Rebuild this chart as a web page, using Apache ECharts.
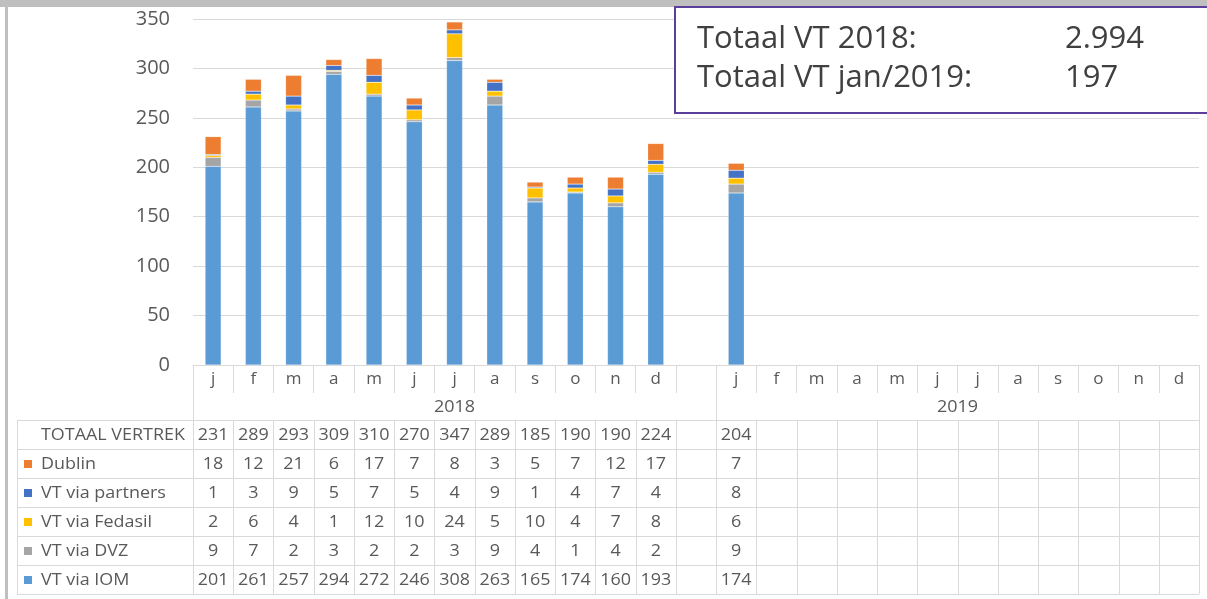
<!DOCTYPE html>
<html>
<head>
<meta charset="utf-8">
<script src="https://cdn.jsdelivr.net/npm/echarts@6/dist/echarts.min.js"></script>
<style>
  html, body { margin: 0; padding: 0; background: #fff; }
  #main { width: 1207px; height: 599px; }
</style>
</head>
<body>
<div id="main"></div>
<script>
// maanden: 12 voor 2018, een lege kolom, 12 voor 2019
const months = ['j', 'f', 'm', 'a', 'm', 'j', 'j', 'a', 's', 'o', 'n', 'd', '',
                'j', 'f', 'm', 'a', 'm', 'j', 'j', 'a', 's', 'o', 'n', 'd'];
const years = [
  { label: '2018', from: 0, to: 12 },
  { label: '2019', from: 13, to: 24 }
];
const _ = null;
const totaal   = [231, 289, 293, 309, 310, 270, 347, 289, 185, 190, 190, 224, _, 204, _, _, _, _, _, _, _, _, _, _, _];
const dublin   = [18, 12, 21, 6, 17, 7, 8, 3, 5, 7, 12, 17, _, 7, _, _, _, _, _, _, _, _, _, _, _];
const partners = [1, 3, 9, 5, 7, 5, 4, 9, 1, 4, 7, 4, _, 8, _, _, _, _, _, _, _, _, _, _, _];
const fedasil  = [2, 6, 4, 1, 12, 10, 24, 5, 10, 4, 7, 8, _, 6, _, _, _, _, _, _, _, _, _, _, _];
const dvz      = [9, 7, 2, 3, 2, 2, 3, 9, 4, 1, 4, 2, _, 9, _, _, _, _, _, _, _, _, _, _, _];
const iom      = [201, 261, 257, 294, 272, 246, 308, 263, 165, 174, 160, 193, _, 174, _, _, _, _, _, _, _, _, _, _, _];
const yTicks = [0, 50, 100, 150, 200, 250, 300, 350];
const boxLines = [
  ['Totaal VT 2018:', '2.994'],
  ['Totaal VT jan/2019:', '197']
];

const txt = '#595959';
const lineCol = '#d9d9d9';
const font = 'Open Sans';
const stretch = 1.12;  // tabeltekst is wat breder in het origineel

// reeksen van onder naar boven
const stack = [
  { name: 'VT via IOM', data: iom, color: '#5b9bd5' },
  { name: 'VT via DVZ', data: dvz, color: '#a5a5a5' },
  { name: 'VT via Fedasil', data: fedasil, color: '#ffc000' },
  { name: 'VT via partners', data: partners, color: '#4472c4' },
  { name: 'Dublin', data: dublin, color: '#ed7d31' }
];
// tabelrijen van boven naar onder
const rows = [
  { name: 'TOTAAL VERTREK', data: totaal, color: null },
  { name: 'Dublin', data: dublin, color: '#ed7d31' },
  { name: 'VT via partners', data: partners, color: '#4472c4' },
  { name: 'VT via Fedasil', data: fedasil, color: '#ffc000' },
  { name: 'VT via DVZ', data: dvz, color: '#a5a5a5' },
  { name: 'VT via IOM', data: iom, color: '#5b9bd5' }
];

const chart = echarts.init(document.getElementById('main'));

const option = {
  animation: false,
  grid: { left: 193, right: 8, top: 19, bottom: 234 },
  xAxis: {
    type: 'category',
    data: months,
    axisLine: { lineStyle: { color: lineCol } },
    axisTick: { show: true, interval: 0, length: 28, lineStyle: { color: lineCol } },
    axisLabel: { interval: 0, margin: 6, color: txt, fontSize: 17, fontFamily: font }
  },
  yAxis: {
    type: 'value',
    min: yTicks[0],
    max: yTicks[yTicks.length - 1],
    interval: 50,
    axisLine: { show: false },
    axisTick: { show: false },
    splitLine: { lineStyle: { color: lineCol } },
    axisLabel: { margin: 23, color: txt, fontSize: 20, fontFamily: font }
  },
  series: stack.map(s => ({
    name: s.name,
    type: 'bar',
    stack: 'vt',
    barWidth: 16,
    data: s.data,
    itemStyle: { color: s.color, borderColor: 'rgba(255,255,255,0.35)', borderWidth: 0.5 }
  }))
};
chart.setOption(option);

// tabel onder de grafiek, opgebouwd uit de kolomposities van de as
const cx = i => chart.convertToPixel({ xAxisIndex: 0 }, i);
const step = cx(1) - cx(0);
const edge = i => cx(i) - step / 2;  // linkerrand van kolom i
const axisY = chart.convertToPixel({ yAxisIndex: 0 }, 0);
const tblTop = 420, rowH = 29, hdrLeft = 17;
const tblRight = edge(months.length);
const g = [];
const line = (x1, y1, x2, y2) => g.push({
  type: 'line', silent: true,
  shape: { x1: x1, y1: y1, x2: x2, y2: y2 },
  style: { stroke: lineCol, lineWidth: 1 }
});
const label = (text, x, y, align) => g.push({
  type: 'text', silent: true, x: x, y: y, scaleX: stretch,
  style: { text: text, x: 0, y: 0, align: align, verticalAlign: 'middle', fill: txt, fontSize: 16, fontFamily: font }
});

// horizontale lijnen
for (let r = 0; r <= rows.length; r++) {
  const y = Math.round(tblTop + r * rowH) + 0.5;
  line(hdrLeft, y, tblRight, y);
}
// verticale lijnen in de tabel
const yEnd = tblTop + rows.length * rowH;
line(hdrLeft + 0.5, tblTop, hdrLeft + 0.5, yEnd);
for (let i = 0; i <= months.length; i++) {
  const x = Math.round(edge(i)) + 0.5;
  line(x, tblTop, x, yEnd);
}
// scheiding in de jaarrij
[edge(years[0].from), edge(years[1].from), edge(years[1].to + 1)].forEach(x => {
  x = Math.round(x) + 0.5;
  line(x, axisY, x, tblTop);
});
// jaartallen
years.forEach(yr => label(yr.label, (edge(yr.from) + edge(yr.to + 1)) / 2, 407, 'center'));
// rijen
rows.forEach((row, r) => {
  const yc = tblTop + r * rowH + rowH / 2 + 0.5;
  if (row.color) {
    g.push({ type: 'rect', silent: true, shape: { x: 24, y: Math.round(yc - 4), width: 8, height: 8 }, style: { fill: row.color } });
  }
  label(row.name, 41, yc, 'left');
  row.data.forEach((v, i) => {
    if (v != null) label(String(v), cx(i), yc, 'center');
  });
});

// grijze rand van de dia
g.push({ type: 'rect', silent: true, shape: { x: 0, y: 0, width: 1207, height: 7 }, style: { fill: '#bfbfbf' } });
g.push({ type: 'rect', silent: true, shape: { x: 5, y: 0, width: 3, height: 599 }, style: { fill: '#bfbfbf' } });

// tekstvak rechtsboven
g.push({
  type: 'rect', silent: true,
  shape: { x: 675, y: 7, width: 560, height: 106 },
  style: { fill: '#fff', stroke: '#5b3f9b', lineWidth: 2 }
});
boxLines.forEach((bl, k) => {
  const y = 39 + k * 39;
  g.push({ type: 'text', silent: true, style: { text: bl[0], x: 697, y: y, align: 'left', verticalAlign: 'middle', fill: '#404040', fontSize: 31, fontFamily: font } });
  g.push({ type: 'text', silent: true, style: { text: bl[1], x: 1065, y: y, align: 'left', verticalAlign: 'middle', fill: '#404040', fontSize: 31, fontFamily: font } });
});

chart.setOption({ graphic: { elements: g } });
</script>
</body>
</html>
